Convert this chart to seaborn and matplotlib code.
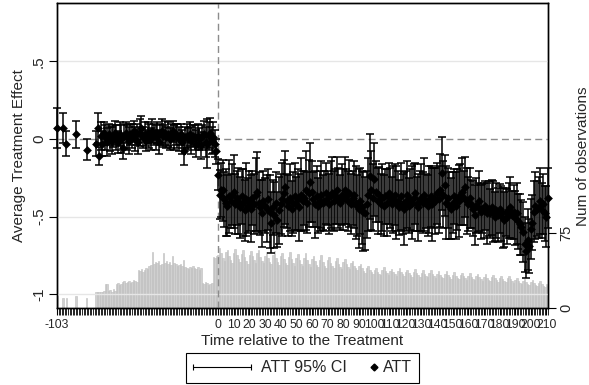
import numpy as np
import pandas as pd
import matplotlib
matplotlib.use("Agg")
import matplotlib.pyplot as plt
import seaborn as sns
from matplotlib.lines import Line2D
from matplotlib.legend_handler import HandlerLine2D

# relative time: a few sparse early periods, then every period from -75 to 211
t_sparse = [-103, -99, -97, -91, -84, -78, -77, -76]
att_sparse = [0.07, 0.07, -0.03, 0.03, -0.07, -0.03, 0.07, -0.11]
se_sparse = [0.065, 0.05, 0.04, 0.045, 0.035, 0.04, 0.05, 0.03]
n_sparse = [12, 10, 10, 12, 10, 16, 16, 16]

# t = -75 .. -1
att_pre = [0.02, -0.03, 0.04, 0.01, -0.02, 0.03, 0.00, -0.01, 0.02, 0.04,
           0.01, -0.02, 0.03, 0.00, -0.06, 0.02, 0.04, 0.01, -0.01, 0.03,
           0.02, 0.05, 0.00, 0.03, -0.02, 0.04, 0.07, 0.01, 0.03, -0.01,
           0.04, 0.02, 0.00, 0.05, 0.03, 0.01, 0.04, -0.02, 0.03, 0.05,
           0.02, 0.04, 0.01, 0.03, 0.00, 0.02, 0.05, 0.01, 0.03, 0.02,
           0.00, 0.03, -0.02, -0.08, 0.01, 0.02, 0.00, 0.03, -0.01, 0.02,
           0.01, -0.03, 0.02, 0.00, -0.04, 0.01, 0.03, -0.02, -0.03, 0.02,
           0.04, -0.01, 0.01, -0.03, -0.08]
se_pre = [0.045, 0.040, 0.035, 0.040, 0.045, 0.035, 0.040, 0.045, 0.035, 0.040,
          0.040, 0.035, 0.040, 0.045, 0.035, 0.040, 0.035, 0.040, 0.045, 0.035,
          0.040, 0.035, 0.040, 0.035, 0.040, 0.045, 0.040, 0.035, 0.040, 0.035,
          0.035, 0.040, 0.035, 0.040, 0.035, 0.040, 0.035, 0.040, 0.035, 0.040,
          0.035, 0.040, 0.035, 0.040, 0.035, 0.040, 0.035, 0.040, 0.035, 0.040,
          0.040, 0.035, 0.040, 0.045, 0.035, 0.040, 0.035, 0.040, 0.045, 0.035,
          0.040, 0.045, 0.040, 0.035, 0.045, 0.040, 0.045, 0.050, 0.080, 0.045,
          0.050, 0.045, 0.050, 0.045, 0.040]
n_pre = [16, 16, 17, 24, 24, 17, 18, 16, 19, 17,
         24, 25, 23, 24, 26, 27, 25, 26, 27, 25,
         26, 28, 27, 26, 38, 37, 39, 36, 38, 40,
         39, 42, 43, 56, 44, 46, 45, 47, 43, 44,
         55, 45, 47, 44, 46, 43, 52, 45, 44, 42,
         43, 44, 42, 48, 41, 40, 39, 41, 40, 42,
         40, 39, 41, 38, 40, 25, 24, 26, 25, 23,
         24, 25, 51, 50, 52]

# t = 0 .. 211
att_post = [-0.23, -0.36, -0.33, -0.33, -0.39, -0.41, -0.43, -0.37, -0.40, -0.36,
            -0.34, -0.42, -0.38, -0.40, -0.44, -0.37, -0.41, -0.46, -0.39, -0.43,
            -0.40, -0.45, -0.38, -0.42, -0.36, -0.34, -0.41, -0.44, -0.48, -0.40,
            -0.43, -0.45, -0.39, -0.47, -0.54, -0.44, -0.49, -0.41, -0.52, -0.46,
            -0.42, -0.39, -0.35, -0.31, -0.40, -0.43, -0.38, -0.45, -0.41, -0.37,
            -0.42, -0.39, -0.44, -0.36, -0.40, -0.38, -0.33, -0.41, -0.35, -0.28,
            -0.34, -0.39, -0.42, -0.37, -0.43, -0.40, -0.36, -0.41, -0.40, -0.35,
            -0.38, -0.42, -0.36, -0.35, -0.40, -0.37, -0.33, -0.38, -0.41, -0.36,
            -0.39, -0.33, -0.37, -0.40, -0.35, -0.42, -0.38, -0.36, -0.41, -0.43,
            -0.45, -0.40, -0.44, -0.47, -0.48, -0.42, -0.36, -0.24, -0.33, -0.38,
            -0.26, -0.34, -0.40, -0.36, -0.42, -0.38, -0.43, -0.37, -0.41, -0.35,
            -0.38, -0.42, -0.39, -0.36, -0.41, -0.40, -0.44, -0.37, -0.42, -0.45,
            -0.40, -0.36, -0.43, -0.39, -0.41, -0.38, -0.35, -0.42, -0.44, -0.40,
            -0.38, -0.41, -0.36, -0.40, -0.43, -0.39, -0.37, -0.42, -0.38, -0.40,
            -0.35, -0.39, -0.33, -0.22, -0.36, -0.30, -0.41, -0.38, -0.43, -0.45,
            -0.41, -0.37, -0.43, -0.39, -0.40, -0.36, -0.34, -0.38, -0.31, -0.40,
            -0.42, -0.38, -0.42, -0.45, -0.49, -0.43, -0.44, -0.40, -0.47, -0.45,
            -0.46, -0.43, -0.48, -0.45, -0.48, -0.44, -0.47, -0.50, -0.46, -0.49,
            -0.45, -0.48, -0.51, -0.52, -0.47, -0.50, -0.46, -0.44, -0.49, -0.47,
            -0.51, -0.48, -0.53, -0.55, -0.57, -0.60, -0.68, -0.72, -0.65, -0.69,
            -0.58, -0.54, -0.47, -0.43, -0.45, -0.44, -0.40, -0.46, -0.42, -0.48,
            -0.50, -0.38]
se_post = [0.05, 0.08, 0.09, 0.10, 0.09, 0.11, 0.10, 0.12, 0.09, 0.10,
           0.12, 0.10, 0.09, 0.11, 0.10, 0.09, 0.11, 0.10, 0.12, 0.09,
           0.10, 0.11, 0.09, 0.10, 0.12, 0.13, 0.10, 0.09, 0.11, 0.10,
           0.09, 0.11, 0.10, 0.12, 0.10, 0.09, 0.11, 0.10, 0.09, 0.11,
           0.10, 0.12, 0.11, 0.12, 0.09, 0.10, 0.11, 0.09, 0.10, 0.11,
           0.09, 0.10, 0.11, 0.12, 0.10, 0.09, 0.13, 0.10, 0.11, 0.13,
           0.10, 0.09, 0.11, 0.10, 0.09, 0.10, 0.11, 0.09, 0.10, 0.10,
           0.09, 0.10, 0.11, 0.12, 0.10, 0.09, 0.11, 0.10, 0.09, 0.10,
           0.10, 0.11, 0.09, 0.10, 0.11, 0.10, 0.09, 0.11, 0.12, 0.10,
           0.13, 0.11, 0.12, 0.13, 0.12, 0.11, 0.12, 0.14, 0.13, 0.11,
           0.12, 0.10, 0.11, 0.09, 0.10, 0.11, 0.10, 0.09, 0.11, 0.10,
           0.10, 0.09, 0.11, 0.10, 0.12, 0.10, 0.09, 0.11, 0.10, 0.12,
           0.10, 0.11, 0.09, 0.10, 0.12, 0.11, 0.10, 0.09, 0.11, 0.10,
           0.11, 0.10, 0.12, 0.09, 0.10, 0.11, 0.10, 0.12, 0.10, 0.11,
           0.10, 0.11, 0.12, 0.12, 0.11, 0.10, 0.12, 0.10, 0.11, 0.10,
           0.10, 0.09, 0.11, 0.10, 0.12, 0.10, 0.11, 0.09, 0.10, 0.11,
           0.09, 0.10, 0.08, 0.09, 0.10, 0.09, 0.08, 0.10, 0.09, 0.08,
           0.09, 0.08, 0.10, 0.09, 0.08, 0.09, 0.10, 0.08, 0.09, 0.09,
           0.08, 0.09, 0.10, 0.09, 0.08, 0.09, 0.09, 0.10, 0.08, 0.09,
           0.09, 0.10, 0.09, 0.10, 0.09, 0.10, 0.09, 0.09, 0.10, 0.09,
           0.10, 0.09, 0.10, 0.11, 0.09, 0.10, 0.11, 0.09, 0.10, 0.09,
           0.10, 0.10]
n_post = [53, 60, 55, 50, 47, 56, 58, 52, 48, 45,
          55, 59, 53, 49, 46, 54, 58, 51, 47, 44,
          53, 57, 52, 48, 45, 55, 58, 51, 47, 45,
          52, 56, 50, 46, 44, 53, 57, 50, 46, 43,
          52, 55, 49, 45, 43, 51, 56, 49, 45, 42,
          50, 54, 48, 44, 42, 50, 55, 48, 44, 41,
          49, 52, 47, 43, 41, 48, 53, 46, 42, 40,
          48, 51, 45, 42, 40, 47, 50, 44, 41, 39,
          46, 49, 44, 41, 39, 45, 47, 42, 40, 38,
          42, 44, 40, 37, 35, 40, 42, 38, 36, 34,
          38, 40, 36, 34, 33, 38, 41, 37, 35, 33,
          37, 39, 36, 34, 32, 37, 40, 36, 34, 32,
          36, 38, 35, 33, 31, 36, 39, 35, 33, 31,
          35, 38, 34, 32, 31, 35, 38, 34, 32, 30,
          34, 37, 33, 31, 30, 34, 37, 33, 31, 29,
          33, 36, 32, 30, 29, 33, 35, 32, 30, 28,
          32, 35, 31, 29, 28, 32, 34, 31, 29, 27,
          31, 34, 30, 28, 27, 31, 33, 30, 28, 26,
          30, 32, 29, 27, 26, 30, 32, 29, 27, 25,
          28, 30, 27, 25, 24, 27, 29, 26, 24, 23,
          26, 28, 25, 23, 22, 25, 27, 24, 22, 21,
          24, 22]

xtick_vals = [-103] + list(range(0, 211, 10))
ytick_vals = [-1, -0.5, 0, 0.5]
ytick_labels = ["-1", "-.5", "0", ".5"]

df = pd.DataFrame({
    "t": t_sparse + list(range(-75, 212)),
    "att": att_sparse + att_pre + att_post,
    "se": se_sparse + se_pre + se_post,
    "n": n_sparse + n_pre + n_post,
})
df["ci"] = 1.96 * df["se"]

sns.set_style("white")
plt.rcParams["font.family"] = ["Liberation Sans", "DejaVu Sans"]


class EndMarker(HandlerLine2D):
    # put the diamond at the right end of the handle box
    def get_xdata(self, legend, xdescent, ydescent, width, height, fontsize):
        xm = -xdescent + width + 1
        return np.array([xm, xm]), np.array([xm])


fig = plt.figure(figsize=(5.89, 3.85), dpi=100)
ax = fig.add_axes([57 / 589, 1 - 308.3 / 385, 491 / 589, 305 / 385])
ax2 = ax.twinx()

# number of observations (right axis, behind): one bar per period, width 1
sns.histplot(data=df, x="t", weights="n", discrete=True, shrink=1, color="#d0d0d0",
             alpha=1, edgecolor="#bcbcbc", linewidth=0.4, ax=ax2)
ax2.set_ylim(0, 302.5)
ax2.set_yticks([0, 75])
ax2.set_yticklabels(["0", "75"], rotation=90, va="center", fontsize=10.5)
ax2.set_ylabel("Num of observations", fontsize=11, rotation=90, labelpad=2)
ax2.tick_params(axis="y", length=6, width=0.8, color="black", pad=2)
ax2.set_xlabel("")

ax.set_zorder(ax2.get_zorder() + 1)
ax.patch.set_visible(False)

for yv in [-1, -0.5, 0.5]:
    ax.axhline(yv, color="#e6e6e6", lw=1, zorder=0)
ax.axhline(0, color="#8c8c8c", lw=1, ls=(0, (5, 3)), zorder=1)
ax.axvline(0, color="#8c8c8c", lw=1, ls=(0, (5, 3)), zorder=1)

ax.errorbar(df["t"], df["att"], yerr=df["ci"], fmt="none", ecolor="black",
            elinewidth=1.1, capsize=3.2, capthick=1.1, zorder=2, clip_on=False)
sns.scatterplot(data=df, x="t", y="att", marker="D", color="black", s=20,
                linewidth=0, zorder=3, clip_on=False, legend=False, ax=ax)

ax.set_xlim(-103, 211)
ax.set_ylim(-1.092, 0.875)
ax.set_xticks(xtick_vals)
ax.set_xticklabels([str(v) for v in xtick_vals], fontsize=8.8)
ax.set_xticks(range(-103, 212), minor=True)
ax.tick_params(axis="x", which="both", direction="out", length=5, color="black",
               bottom=True, pad=3)
ax.tick_params(axis="x", which="major", width=0.8)
ax.tick_params(axis="x", which="minor", width=0.6)
ax.set_yticks(ytick_vals)
ax.set_yticklabels(ytick_labels, rotation=90, va="center", fontsize=11)
ax.tick_params(axis="y", length=6, width=0.8, color="black", left=True, pad=2)
ax.set_xlabel("Time relative to the Treatment", fontsize=11, labelpad=2)
ax.set_ylabel("Average Treatment Effect", fontsize=11, labelpad=4)
for sp in list(ax.spines.values()) + list(ax2.spines.values()):
    sp.set_color("black")
    sp.set_linewidth(1)

h_ci = Line2D([], [], color="black", lw=0.8, marker="|", markersize=4, markeredgewidth=0.8)
h_att = Line2D([], [], color="black", ls="none", marker="D", markersize=3.5)
leg = fig.legend([h_ci, h_att], ["ATT 95% CI", "ATT"], loc="center",
                 bbox_to_anchor=(302.5 / 589, 1 - 368 / 385), ncol=2, frameon=True,
                 fancybox=False, edgecolor="black", framealpha=1, fontsize=11.5,
                 handlelength=3.6, handletextpad=0.65, columnspacing=-2.0,
                 borderpad=0.45,
                 handler_map={h_ci: HandlerLine2D(numpoints=2, marker_pad=0),
                              h_att: EndMarker()})
leg.get_frame().set_linewidth(0.8)

fig.savefig("out.png", dpi=100)
